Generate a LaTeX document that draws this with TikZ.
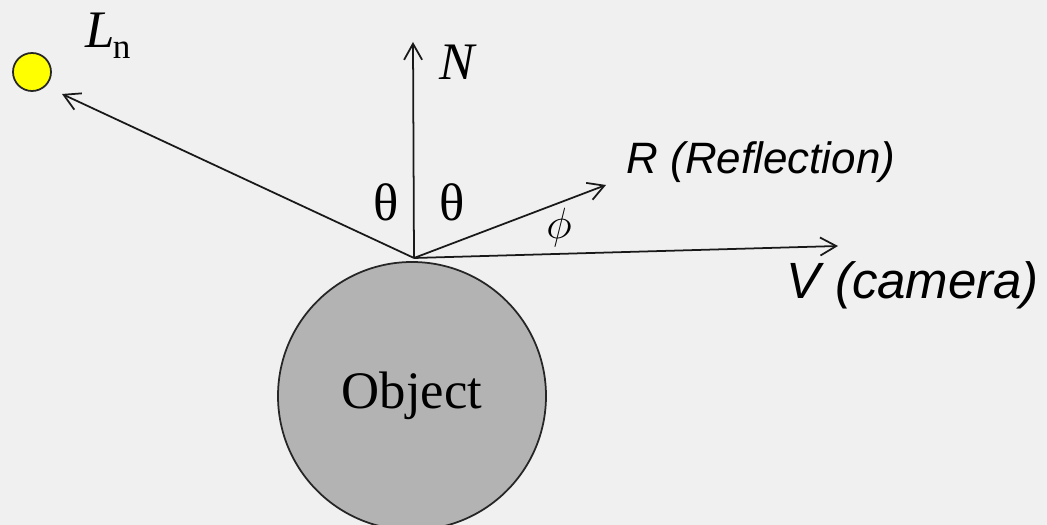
\documentclass[tikz,border=0pt]{standalone}
\usepackage{fontspec}
\setmainfont{Liberation Serif}
\newfontfamily\sanslabel{Liberation Sans}
\usetikzlibrary{arrows.meta}
\definecolor{bg}{RGB}{240,240,240}
\definecolor{obj}{RGB}{179,179,179}
\definecolor{sun}{RGB}{255,255,0}

\begin{document}
\begin{tikzpicture}[x=0.2mm,y=-0.2mm,>={Straight Barb[length=3.2mm,width=3.6mm]},
 ray/.style={->,line width=1pt,black!90},
 big/.style={font=\fontsize{30}{36}\selectfont},
 vec/.style={font=\sanslabel\itshape\fontsize{25}{30}\selectfont}]
\fill[bg] (0,0) rectangle (1047,525);
\useasboundingbox (0,0) rectangle (1047,525);
% object and light source
\node[circle,draw=black!85,line width=1pt,fill=obj,minimum size=268*0.2mm,inner sep=0pt,big] (obj) at (412,396) {Object};
\node[circle,draw=black!85,line width=1pt,fill=sun,minimum size=38*0.2mm,inner sep=0pt] (light) at (32,72) {};
% rays
\coordinate (o) at (414,258);
\coordinate (ltip) at (62,94);
\coordinate (ntip) at (413,42);
\coordinate (rtip) at (606,185);
\coordinate (vtip) at (838,246);
\draw[ray] (o)--(ltip);
\draw[ray] (o)--(ntip);
\draw[ray] (o)--(rtip);
\draw[ray] (o)--(vtip);
% labels
\node[big] (ln) at (108,36) {\textit{L}\kern-1pt\raisebox{-6pt}{\fontsize{20}{22}\selectfont n}};
\node[big] (nlab) at (458,62) {\textit{N}};
\node[big] (th1) at (386,202) {θ};
\node[big] (th2) at (452,202) {θ};
\node[font=\fontsize{24}{28}\selectfont] (phi) at (559,228) {$\phi$};
\node[vec] (rlab) at (761,162) {R (Reflection)};
\node[vec,font=\sanslabel\itshape\fontsize{29}{34}\selectfont] (vlab) at (913,285) {V (camera)};
\end{tikzpicture}
\end{document}
